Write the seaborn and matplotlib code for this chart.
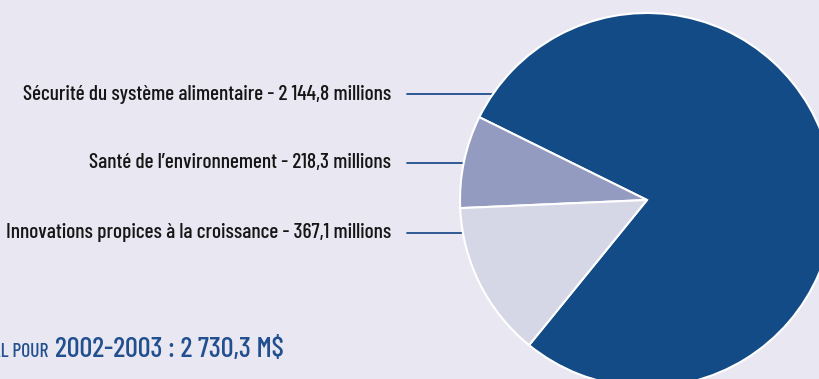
import matplotlib
matplotlib.use("Agg")
import matplotlib.pyplot as plt
from matplotlib import font_manager as fm
import seaborn as sns
import numpy as np

# ---- data ----
categories = ["Sécurité du système alimentaire", "Santé de l’environnement",
              "Innovations propices à la croissance"]
values = [2144.8, 218.3, 367.1]
value_labels = ["2 144,8 millions", "218,3 millions", "367,1 millions"]
total_prefix = "TOTAL POUR"
total_label = "2002-2003 : 2 730,3 M$"

colors = ["#134B87", "#939BC0", "#D5D7E6"]
BG = "#E9E8F2"
LINE = "#1F4E8C"

sns.set_theme(style="white")
plt.rcParams["font.family"] = ["DejaVu Sans"]

W, H = 820, 379
fig = plt.figure(figsize=(W / 100, H / 100), dpi=100, facecolor=BG)
renderer = fig.canvas.get_renderer()


def _weight_num(w):
    table = {"normal": 400, "regular": 400, "book": 400, "medium": 500,
             "semibold": 600, "demibold": 600, "bold": 700, "heavy": 800,
             "black": 900, "light": 300}
    if isinstance(w, (int, float)):
        return int(w)
    return table.get(str(w).lower(), 400)


def pick_condensed(sample, target_w, target_size):
    cands = []
    for f in fm.fontManager.ttflist:
        name = f.name.lower()
        st = str(f.stretch).lower()
        fn = f.fname.lower()
        if not ("condensed" in st or "narrow" in name or "condensed" in name
                or "condensed" in fn or "narrow" in fn):
            continue
        if "mono" in name or "mono" in fn or "serif" in fn and "sans" not in fn:
            continue
        if "italic" in str(f.style).lower() or "oblique" in str(f.style).lower():
            continue
        if "italic" in fn:
            continue
        w = _weight_num(f.weight)
        cands.append((w, f.fname))
    for lo, hi in ((500, 700), (400, 700)):
        scored = []
        for w, fname in cands:
            if lo <= w <= hi:
                fp = fm.FontProperties(fname=fname, size=10)
                t = fig.text(0, 0, sample, fontproperties=fp)
                wd = t.get_window_extent(renderer=renderer).width
                t.remove()
                size = 10 * target_w / wd
                scored.append((abs(size - target_size) + 0.3 * abs(w - 550) / 100, fname))
        if scored:
            scored.sort()
            return fm.FontProperties(fname=scored[0][1])
    return fm.FontProperties(family="DejaVu Sans", weight="bold")


FP = pick_condensed(f"{categories[0]} - {value_labels[0]}", 368, 15.9)

cx, cy, r = 647, 200, 187  # pixel geometry of the pie (from top)
ax = fig.add_axes([(cx - r) / W, (H - cy - r) / H, 2 * r / W, 2 * r / H])
ax.set_facecolor(BG)
ax.axis("off")

wedges, _ = ax.pie(values, colors=colors, startangle=230.9, counterclock=True,
                   radius=1.0, wedgeprops=dict(edgecolor="white", linewidth=1.5),
                   frame=False)
for w in wedges:
    w.set_clip_on(False)
ax.set_xlim(-1, 1)
ax.set_ylim(-1, 1)
ax.set_aspect("equal")


def fit(t, target_w):
    bb = t.get_window_extent(renderer=renderer)
    t.set_fontsize(t.get_fontsize() * target_w / bb.width)


# connectors and labels
label_y_px = [94, 163, 233]
line_start_px = 407
text_right_px = 391
texts = []
for cat, vl, ypx in zip(categories, value_labels, label_y_px):
    yd = (cy - ypx) / r
    x0 = (line_start_px - cx) / r
    x1 = -np.sqrt(1 - yd ** 2)
    ax.plot([x0, x1], [yd, yd], color=LINE, lw=1.3, clip_on=False, zorder=0)
    t = fig.text(text_right_px / W, (H - ypx) / H, f"{cat} - {vl}",
                 ha="right", va="center", color="#161616", fontproperties=FP)
    t.set_fontsize(14)
    texts.append(t)
fit(texts[0], 368)
for t in texts[1:]:
    t.set_fontsize(texts[0].get_fontsize())

# total
base_y = (H - 357) / H
tl = fig.text(55 / W, base_y, total_label, ha="left", va="baseline",
              color="#22508F", fontproperties=FP)
tl.set_fontsize(22)
fit(tl, 230)
tp = fig.text(48 / W, base_y, total_prefix, ha="right", va="baseline",
              color="#22508F", fontproperties=FP)
tp.set_fontsize(tl.get_fontsize() * 0.68)

fig.savefig("out.png", dpi=100, facecolor=BG)
